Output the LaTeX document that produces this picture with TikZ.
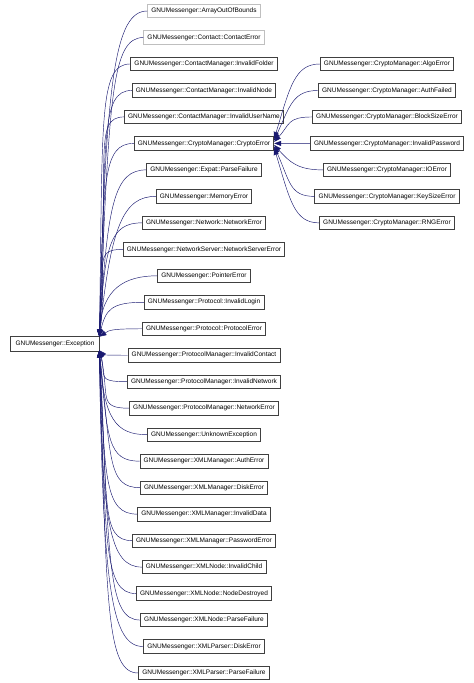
\documentclass[tikz,border=0pt]{standalone}
\usepackage{fontspec}
\setmainfont{Liberation Sans}
\usetikzlibrary{arrows.meta,calc}
\definecolor{edgecol}{HTML}{191970}
\definecolor{darkb}{HTML}{404040}
\definecolor{lightb}{HTML}{BFBFBF}
\tikzset{
  cls/.style={draw=darkb, line width=0.7pt, fill=white, text=black,
    font=\fontsize{6.5}{7.8}\selectfont, inner xsep=3.7pt, inner ysep=0pt,
    minimum height=13.5pt, text height=4.8pt, text depth=1.4pt},
  undoc/.style={cls, draw=lightb},
  edge/.style={draw=edgecol, line width=0.45pt, -{Triangle[length=7pt,width=5pt]}},
}
\begin{document}
\begin{tikzpicture}[x=1pt,y=1pt]
\useasboundingbox (0,0) rectangle (474,-683);
% base class
\node[cls, minimum height=15pt, minimum width=89pt] (exc) at (55,-343.5) {GNUMessenger::Exception};
% left column
\node[undoc] (a1) at (204,-11) {GNUMessenger::ArrayOutOfBounds};
\node[undoc] (a2) at (204,-37.5) {GNUMessenger::Contact::ContactError};
\foreach \t [count=\i from 3] in {ContactManager::InvalidFolder,ContactManager::InvalidNode,ContactManager::InvalidUserName,CryptoManager::CryptoError,Expat::ParseFailure,MemoryError,Network::NetworkError,NetworkServer::NetworkServerError,PointerError,Protocol::InvalidLogin,Protocol::ProtocolError,ProtocolManager::InvalidContact,ProtocolManager::InvalidNetwork,ProtocolManager::NetworkError,UnknownException,XMLManager::AuthError,XMLManager::DiskError,XMLManager::InvalidData,XMLManager::PasswordError,XMLNode::InvalidChild,XMLNode::NodeDestroyed,XMLNode::ParseFailure,XMLParser::DiskError,XMLParser::ParseFailure}{
  \node[cls] (a\i) at (204,{-(11+26.48*(\i-1))}) {GNUMessenger::\t};
}
% right column
\foreach \t [count=\i] in {AlgoError,AuthFailed,BlockSizeError,InvalidPassword,IOError,KeySizeError,RNGError}{
  \node[cls] (b\i) at (387,{-(64+26.48*(\i-1))}) {GNUMessenger::CryptoManager::\t};
}
% edges to Exception
\foreach \i in {1,...,13}{
  \pgfmathsetmacro\yc{-(11+26.48*(\i-1))}
  \pgfmathsetmacro\cy{-337+0.8*(\yc+337)}
  \pgfmathsetmacro\cx{102+0.9*mod(\i*37,11)}
  \draw[edge] (a\i.west) .. controls +(-32,0) and (\cx,\cy) .. ([xshift=-0.5pt,yshift=-1pt]exc.north east);
}
\foreach \i in {14,...,26}{
  \pgfmathsetmacro\yc{-(11+26.48*(\i-1))}
  \pgfmathsetmacro\cy{-350+0.8*(\yc+350)}
  \pgfmathsetmacro\cx{102+0.9*mod(\i*37,11)}
  \draw[edge] (a\i.west) .. controls +(-32,0) and (\cx,\cy) .. ([xshift=-0.5pt,yshift=1pt]exc.south east);
}
% edges to CryptoError
\foreach \i in {1,...,7}{
  \pgfmathsetmacro\yc{-(64+26.48*(\i-1))}
  \pgfmathsetmacro\s{(4-\i)*1.5}
  \pgfmathsetmacro\cy{-143.4+\s+0.7*(\yc+143.4-\s)}
  \draw[edge] (b\i.west) .. controls +(-25,0) and (290,\cy) .. ([yshift=\s pt]a6.east);
}
\end{tikzpicture}
\end{document}
